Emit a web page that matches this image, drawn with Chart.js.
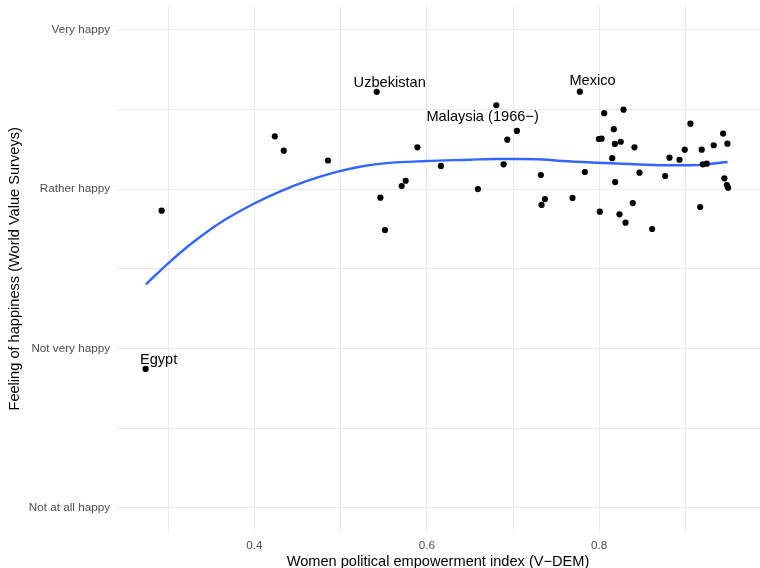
<!DOCTYPE html>
<html>
<head>
<meta charset="utf-8">
<script src="https://cdn.jsdelivr.net/npm/chart.js@4.4.1/dist/chart.umd.min.js"></script>
<style>
  body { margin:0; background:#fff; }
  canvas { display:block; }
</style>
</head>
<body>
<canvas id="c" width="760" height="568"></canvas>
<script>
// women political empowerment (x) vs mean happiness score (y), one point per country
const empowerment = [0.2738,0.2924,0.4237,0.4341,0.4854,0.5419,0.5462,0.5515,0.5709,0.5755,
  0.5891,0.6164,0.6593,0.6806,0.6891,0.6934,0.7045,0.7323,0.7370,0.7331,
  0.7690,0.7775,0.7833,0.7995,0.8027,0.8007,0.8058,0.8151,0.8169,0.8181,
  0.8185,0.8235,0.8250,0.8282,0.8305,0.8389,0.8409,0.8467,0.8614,0.8765,
  0.8815,0.8931,0.8992,0.9058,0.9171,0.9189,0.9201,0.9247,0.9328,0.9437,
  0.9452,0.9487,0.9495,0.9481];
const happiness = [1.872,2.865,3.332,3.242,3.180,3.611,2.947,2.744,3.020,3.053,
  3.263,3.146,3.001,3.527,3.156,3.311,3.366,3.089,2.938,2.901,
  2.945,3.612,3.108,3.315,3.317,2.859,3.477,3.195,3.377,3.284,
  3.045,2.842,3.298,3.499,2.790,2.913,3.263,3.104,2.750,3.083,
  3.198,3.185,3.248,3.411,2.888,3.248,3.156,3.160,3.276,3.349,
  3.068,3.286,3.009,3.026];

// labelled countries: index into the arrays above
const labelNames = ['Egypt', 'Uzbekistan', 'Malaysia (1966\u2212)', 'Mexico'];
const labelIndex = [0, 5, 13, 21];

// smoothed (loess) curve
const smoothX = [0.2742,0.3000,0.3252,0.3445,0.3677,0.4005,0.4295,0.4604,0.4912,0.5222,
  0.5531,0.5995,0.6497,0.6806,0.7076,0.7308,0.7575,0.7988,0.8351,0.8734,
  0.9047,0.9240,0.9490];
const smoothY = [2.403,2.535,2.651,2.730,2.814,2.912,2.985,3.050,3.102,3.141,
  3.164,3.177,3.185,3.190,3.190,3.188,3.177,3.166,3.158,3.150,
  3.150,3.156,3.171];

const xTicks = [0.3,0.4,0.5,0.6,0.7,0.8,0.9];
const xTickLabels = ['', '0.4', '', '0.6', '', '0.8', ''];
const yTicks = [1,1.5,2,2.5,3,3.5,4];
const yTickLabels = ['Not at all happy','','Not very happy','','Rather happy','','Very happy'];

const FONT = '"Liberation Sans", Arial, Helvetica, sans-serif';

const points = empowerment.map((x, i) => ({ x: x, y: happiness[i] }));
const smooth = smoothX.map((x, i) => ({ x: x, y: smoothY[i] }));

// offsets of label text from its point (repelled labels)
const labelOffsets = { 'Egypt': [13,-9.4], 'Uzbekistan': [13,-9.3], 'Mexico': [12.7,-10.4] };
const extras = {
  id: 'extras',
  afterDatasetsDraw(chart) {
    const c = chart.ctx, xs = chart.scales.x, ys = chart.scales.y;
    c.save();
    c.fillStyle = '#000';
    c.font = '14.6px ' + FONT;
    c.textAlign = 'center';
    c.textBaseline = 'middle';
    labelIndex.forEach((idx, k) => {
      const name = labelNames[k];
      const off = labelOffsets[name] || [-13.7, 12];
      const px = xs.getPixelForValue(empowerment[idx]);
      const py = ys.getPixelForValue(happiness[idx]);
      c.fillText(name, px + off[0], py + off[1]);
    });
    // axis titles
    const ca = chart.chartArea;
    c.fillText('Women political empowerment index (V\u2212DEM)', (ca.left + ca.right) / 2, 561.5);
    c.translate(15, (ca.top + ca.bottom) / 2);
    c.rotate(-Math.PI / 2);
    c.fillText('Feeling of happiness (World Value Surveys)', 0, 0);
    c.restore();
  }
};

new Chart(document.getElementById('c'), {
  type: 'scatter',
  data: {
    datasets: [
      { data: points, pointRadius: 3.1, pointHoverRadius: 3.1, backgroundColor: '#000', borderWidth: 0, order: 0 },
      { type: 'line', data: smooth, borderColor: '#3366FF', borderWidth: 2.4, pointRadius: 0,
        cubicInterpolationMode: 'monotone', fill: false, order: 1 }
    ]
  },
  options: {
    responsive: false,
    animation: false,
    layout: { autoPadding: false, padding: { top: 6, left: 0, right: 0, bottom: 0 } },
    plugins: { legend: { display: false }, tooltip: { enabled: false } },
    scales: {
      x: {
        type: 'linear', min: 0.2395, max: 0.9865,
        afterBuildTicks: s => { s.ticks = xTicks.map(v => ({ value: v })); },
        afterFit: s => { s.height = 36.3; s.paddingLeft = 0; s.paddingRight = 0; },
        grid: { color: '#EBEBEB', lineWidth: 1, drawTicks: false },
        border: { display: false },
        ticks: {
          autoSkip: false, maxRotation: 0, padding: 7,
          color: '#4D4D4D', font: { family: FONT, size: 11.7 },
          callback: (v, i) => xTickLabels[i]
        }
      },
      y: {
        type: 'linear', min: 0.85, max: 4.15,
        afterBuildTicks: s => { s.ticks = yTicks.map(v => ({ value: v })); },
        afterFit: s => { s.width = 116; s.paddingTop = 0; s.paddingBottom = 0; },
        grid: { color: '#EBEBEB', lineWidth: 1, drawTicks: false },
        border: { display: false },
        ticks: {
          autoSkip: false, padding: 6,
          color: '#4D4D4D', font: { family: FONT, size: 11.7 },
          callback: (v, i) => yTickLabels[i]
        }
      }
    }
  },
  plugins: [extras]
});
</script>
</body>
</html>
